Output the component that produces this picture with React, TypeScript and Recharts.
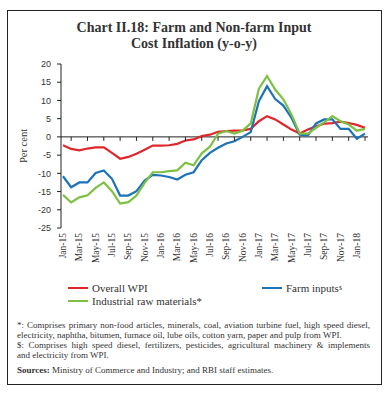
import { Line, LineChart, ReferenceLine, XAxis, YAxis } from "recharts";

const months = [
  "Jan-15", "Feb-15", "Mar-15", "Apr-15", "May-15", "Jun-15", "Jul-15", "Aug-15",
  "Sep-15", "Oct-15", "Nov-15", "Dec-15", "Jan-16", "Feb-16", "Mar-16", "Apr-16",
  "May-16", "Jun-16", "Jul-16", "Aug-16", "Sep-16", "Oct-16", "Nov-16", "Dec-16",
  "Jan-17", "Feb-17", "Mar-17", "Apr-17", "May-17", "Jun-17", "Jul-17", "Aug-17",
  "Sep-17", "Oct-17", "Nov-17", "Dec-17", "Jan-18", "Feb-18",
];

const overallWpi = [
  -2.3, -3.3, -3.7, -3.2, -2.9, -2.9, -4.4, -6.0, -5.5, -4.6, -3.5, -2.4, -2.4,
  -2.3, -1.9, -1.0, -0.7, 0.2, 0.6, 1.4, 1.6, 1.7, 1.8, 2.2, 4.3, 5.7, 4.8, 3.4,
  2.0, 0.9, 2.0, 2.9, 3.6, 3.8, 4.2, 3.8, 3.3, 2.5,
];

const farmInputs = [
  -10.8, -13.8, -12.5, -12.5, -9.9, -9.2, -11.5, -16.1, -16.1, -14.9, -12.0,
  -10.4, -10.6, -11.0, -11.7, -10.4, -9.7, -6.4, -4.4, -3.0, -1.8, -1.2, 0.0,
  1.3, 9.8, 13.9, 10.4, 8.6, 5.2, 0.6, 0.4, 3.7, 4.8, 4.8, 2.2, 2.2, -0.5, 0.9,
];

const industrialRaw = [
  -15.9, -18.0, -16.6, -16.0, -14.0, -12.5, -14.9, -18.3, -17.9, -16.1, -12.6,
  -9.7, -9.7, -9.4, -9.2, -7.1, -7.8, -4.5, -2.7, 0.9, 1.6, 0.9, 1.7, 3.7, 13.2,
  16.7, 13.0, 10.3, 6.1, 0.9, 0.9, 2.5, 4.0, 5.7, 4.3, 3.4, 1.7, 2.2,
];

const yTicks = [20, 15, 10, 5, 0, -5, -10, -15, -20, -25];

const series = [
  { key: "wpi", name: "Overall WPI", sup: "", color: "#E1262B", values: overallWpi },
  { key: "farm", name: "Farm inputs", sup: "$", color: "#1D72B8", values: farmInputs },
  { key: "ind", name: "Industrial raw materials*", sup: "", color: "#7DC142", values: industrialRaw },
];

const data = months.map((m, i) => ({
  month: m,
  wpi: overallWpi[i],
  farm: farmInputs[i],
  ind: industrialRaw[i],
}));

const CHART_W = 388;
const CHART_H = 272;
const MARGIN = { top: 64, right: 20, bottom: 2, left: 10 };
const X_AXIS_H = 42;
const PLOT_H = CHART_H - MARGIN.top - MARGIN.bottom - X_AXIS_H;
const PLOT_BOTTOM = MARGIN.top + PLOT_H;
const ZERO_Y = MARGIN.top + (PLOT_H * 20) / 45;

const serif = '"Liberation Serif", "DejaVu Serif", serif';
const sans = '"Liberation Sans", Arial, sans-serif';

function MonthTick(props: any) {
  const { x, index, payload } = props;
  if (index % 2 === 1) {
    return <line x1={x} x2={x} y1={ZERO_Y} y2={ZERO_Y + 4} stroke="#222" strokeWidth={1} />;
  }
  const ty = PLOT_BOTTOM + 5;
  return (
    <text
      x={x}
      y={ty}
      transform={`rotate(-90 ${x} ${ty})`}
      textAnchor="end"
      dominantBaseline="central"
      fontFamily={serif}
      fontSize={9.5}
      fill="#333"
    >
      {payload.value}
    </text>
  );
}

export default function App() {
  return (
    <div style={{ position: "relative", width: 388, height: 394, background: "#fff", color: "#333" }}>
      <style>{`body { margin: 0; }`}</style>
      <div
        style={{
          position: "absolute",
          left: 7,
          top: 10,
          width: 373,
          height: 373,
          border: "1px solid #222",
        }}
      />
      <div
        style={{
          position: "absolute",
          left: 0,
          top: 20,
          width: 388,
          textAlign: "center",
          fontFamily: serif,
          fontWeight: 700,
          fontSize: 14,
          lineHeight: "16px",
          color: "#333",
        }}
      >
        Chart II.18: Farm and Non-farm Input
        <br />
        Cost Inflation (y-o-y)
      </div>
      <div
        style={{
          position: "absolute",
          left: 23,
          top: 146,
          transform: "translate(-50%, -50%) rotate(-90deg)",
          fontFamily: serif,
          fontSize: 10.5,
          whiteSpace: "nowrap",
          color: "#333",
        }}
      >
        Per cent
      </div>
      <div style={{ position: "absolute", left: 0, top: 0 }}>
        <LineChart width={CHART_W} height={CHART_H} data={data} margin={MARGIN}>
          <XAxis
            dataKey="month"
            interval={0}
            height={X_AXIS_H}
            axisLine={false}
            tickLine={false}
            tick={<MonthTick />}
            padding={{ left: 2, right: 3 }}
          />
          <YAxis
            domain={[-25, 20]}
            ticks={yTicks}
            width={51}
            interval={0}
            tickSize={4}
            tickMargin={6}
            axisLine={{ stroke: "#222" }}
            tickLine={{ stroke: "#222" }}
            tick={{ fontFamily: sans, fontSize: 9, fill: "#333" }}
          />
          <ReferenceLine y={0} stroke="#222" strokeWidth={1} />
          {series.map((s) => (
            <Line
              key={s.key}
              dataKey={s.key}
              stroke={s.color}
              strokeWidth={2.2}
              dot={false}
              type="linear"
              isAnimationActive={false}
            />
          ))}
        </LineChart>
      </div>
      {series.map((s, i) => {
        const pos = [
          { left: 68, top: 288 },
          { left: 262, top: 288 },
          { left: 68, top: 301 },
        ][i];
        return (
          <div
            key={s.key}
            style={{
              position: "absolute",
              left: pos.left,
              top: pos.top - 7,
              height: 14,
              display: "flex",
              alignItems: "center",
              fontFamily: serif,
              fontSize: 11,
              whiteSpace: "nowrap",
            }}
          >
            <span style={{ display: "inline-block", width: 20, height: 2.5, background: s.color, marginRight: 4 }} />
            {s.name}
            {s.sup && <sup style={{ fontSize: 6, lineHeight: 0 }}>{s.sup}</sup>}
          </div>
        );
      })}
      <div
        style={{
          position: "absolute",
          left: 17,
          top: 320,
          width: 353,
          fontFamily: serif,
          fontSize: 9,
          lineHeight: "10px",
          color: "#333",
          whiteSpace: "nowrap",
        }}
      >
        <div style={{ textAlign: "justify", textAlignLast: "justify", whiteSpace: "normal" }}>
          *: Comprises primary non-food articles, minerals, coal, aviation turbine fuel, high speed diesel,
        </div>
        <div>electricity, naphtha, bitumen, furnace oil, lube oils, cotton yarn, paper and pulp from WPI.</div>
        <div style={{ textAlign: "justify", textAlignLast: "justify", whiteSpace: "normal" }}>
          $: Comprises high speed diesel, fertilizers, pesticides, agricultural machinery &amp; implements
        </div>
        <div>and electricity from WPI.</div>
        <div style={{ marginTop: 5 }}>
          <b>Sources:</b> Ministry of Commerce and Industry; and RBI staff estimates.
        </div>
      </div>
    </div>
  );
}
